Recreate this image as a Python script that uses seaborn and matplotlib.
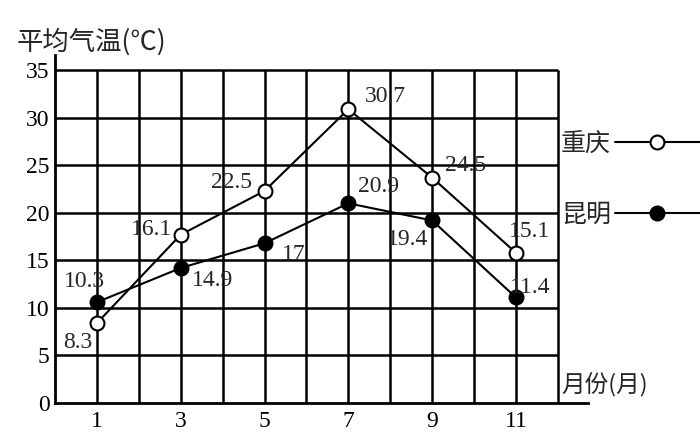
import matplotlib
matplotlib.use('Agg')
import matplotlib.pyplot as plt
import seaborn as sns
from matplotlib.lines import Line2D

# ---- data ----
months = [1, 3, 5, 7, 9, 11]
chongqing = [8.4, 17.7, 22.3, 30.9, 23.7, 15.8]
kunming = [10.6, 14.2, 16.8, 21.0, 19.2, 11.1]
chongqing_labels = ['8.3', '16.1', '22.5', '30.7', '24.5', '15.1']
kunming_labels = ['10.3', '14.9', '17', '20.9', '19.4', '11.4']
y_ticks = [0, 5, 10, 15, 20, 25, 30, 35]
x_ticks = [1, 3, 5, 7, 9, 11]
series_names = ['重庆', '昆明']
y_title = '平均气温(℃)'
x_title = '月份(月)'

# label offsets (points)
cq_off = [(-14, -14), (-21, 4), (-24, 6), (27, 9), (24, 9), (10, 15)]
km_off = [(-9, 15), (23, -9), (21, -8), (22, 12), (-18, -14), (10, 7)]

sns.set_style('white')
plt.rcParams['font.family'] = ['Liberation Serif', 'Noto Sans CJK SC', 'DejaVu Sans']

fig = plt.figure(figsize=(7, 4.32), dpi=100)
ax = fig.add_axes([55/700, 1-403/432, (588-55)/700, (403-55)/432])
ax.set_xlim(0, 12.72)
ax.set_ylim(0, 36.6)

# grid
ax.hlines(y_ticks[1:], 0, 12, color='black', lw=1.8, zorder=1)
ax.vlines(list(range(1, 13)), 0, 35, color='black', lw=1.8, zorder=1)

for s in ['top', 'right']:
    ax.spines[s].set_visible(False)
for s in ['left', 'bottom']:
    ax.spines[s].set_color('black')
    ax.spines[s].set_linewidth(2.0)

sns.lineplot(x=months, y=chongqing, ax=ax, color='black', lw=1.5, marker='o',
             markersize=10, markerfacecolor='white', markeredgecolor='black',
             markeredgewidth=1.5, zorder=5)
sns.lineplot(x=months, y=kunming, ax=ax, color='black', lw=1.5, marker='o',
             markersize=10, markerfacecolor='black', markeredgecolor='black',
             markeredgewidth=1.5, zorder=5)

ax.set_xticks(x_ticks)
ax.set_yticks(y_ticks)
ax.set_xticklabels([str(v) for v in x_ticks])
ax.set_yticklabels([str(v) for v in y_ticks])
ax.tick_params(axis='both', length=0, labelsize=17, labelcolor='black')
ax.tick_params(axis='y', pad=4)
ax.tick_params(axis='x', pad=6)
ax.set_xlabel('')
ax.set_ylabel('')

for x, y, t, o in zip(months, chongqing, chongqing_labels, cq_off):
    ax.annotate(t, (x, y), xytext=o, textcoords='offset points', ha='center',
                va='center', fontsize=17, zorder=6)
for x, y, t, o in zip(months, kunming, kunming_labels, km_off):
    ax.annotate(t, (x, y), xytext=o, textcoords='offset points', ha='center',
                va='center', fontsize=17, zorder=6)

handles = [
    Line2D([], [], color='black', lw=1.5, marker='o', markersize=10,
           markerfacecolor='white', markeredgecolor='black', markeredgewidth=1.5),
    Line2D([], [], color='black', lw=1.5, marker='o', markersize=10,
           markerfacecolor='black', markeredgecolor='black', markeredgewidth=1.5),
]
fig.legend(handles, series_names, loc='upper left',
           bbox_to_anchor=(561/700, 1-131/432), bbox_transform=fig.transFigure,
           markerfirst=False, frameon=False, handlelength=3.4, handletextpad=0.15,
           labelspacing=1.8, numpoints=1, borderaxespad=0, borderpad=0,
           prop={'family': ['Noto Sans CJK SC'], 'size': 18})

fig.text(17/700, 1-42/432, y_title, ha='left', va='center', fontsize=19,
         family=['Noto Sans CJK SC', 'DejaVu Sans'])
fig.text(561/700, 1-384/432, x_title, ha='left', va='center', fontsize=17,
         family=['Noto Sans CJK SC', 'DejaVu Sans'])

fig.savefig('out.png', dpi=100)
